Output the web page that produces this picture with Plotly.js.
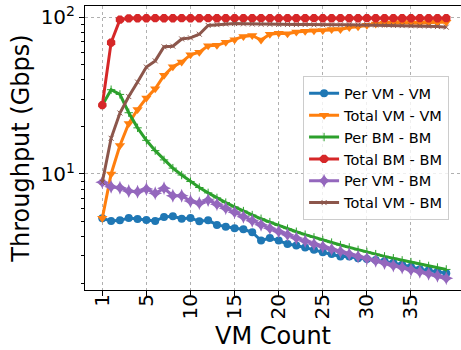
<!DOCTYPE html>
<html>
<head>
<meta charset="utf-8">
<script src="https://cdn.plot.ly/plotly-3.0.1.min.js"></script>
<style>html,body{margin:0;padding:0;background:#fff;}#chart{width:461px;height:350px;}</style>
</head>
<body>
<div id="chart"></div>
<script>
// x positions (point index) and tick labels as shown
const xPos = [0,1,2,3,4,5,6,7,8,9,10,11,12,13,14,15,16,17,18,19,20,21,22,23,24,25,26,27,28,29,30,31,32,33,34,35,36,37,38,39];
const xTickPos = [0,5,10,15,20,25,30,35];
const xTickText = ['1','5','10','15','20','25','30','35'];

const perVmVm = [5.21,5.01,5.06,5.24,5.16,5.09,5.01,5.32,5.37,5.18,5.24,4.99,5.06,4.73,4.61,4.50,4.44,4.25,3.76,3.90,3.76,3.57,3.50,3.40,3.28,3.17,3.09,2.98,2.97,2.90,2.87,2.83,2.77,2.71,2.64,2.56,2.47,2.43,2.38,2.33];
const totalVmVm = [5.21,10.0,15.2,21.0,25.8,30.5,35.0,42.6,48.3,51.8,57.6,59.9,65.8,66.2,69.2,72.0,75.5,76.5,71.5,78.0,79.0,78.5,80.5,81.5,82.0,82.5,83.5,83.5,86.0,87.0,89.0,90.5,91.5,92.0,92.5,92.0,91.5,92.5,93.0,93.0];
const perBmBm = [27.5,34.5,32.2,24.6,19.7,16.4,14.1,12.3,10.9,9.85,8.95,8.20,7.58,7.04,6.57,6.16,5.80,5.47,5.18,4.93,4.69,4.48,4.28,4.10,3.94,3.79,3.65,3.52,3.40,3.28,3.18,3.08,2.98,2.90,2.81,2.74,2.66,2.59,2.53,2.46];
const totalBmBm = [27.5,69.0,96.5,98.5,98.6,98.6,98.7,98.6,98.6,98.7,98.6,98.6,98.7,98.6,98.6,98.7,98.6,98.6,98.7,98.6,98.6,98.7,98.6,98.6,98.7,98.6,98.6,98.7,98.6,98.6,98.7,98.6,98.6,98.7,98.6,98.6,98.7,98.6,98.6,98.7];
const perVmBm = [8.85,8.30,8.18,7.79,7.71,8.02,7.53,8.10,7.27,7.27,6.72,6.50,6.82,6.41,6.04,5.70,5.34,5.03,4.75,4.51,4.29,4.09,3.90,3.74,3.58,3.44,3.31,3.20,3.09,2.98,2.89,2.79,2.70,2.61,2.53,2.45,2.38,2.31,2.24,2.16];
const totalVmBm = [8.85,16.9,24.5,31.2,38.6,48.1,52.7,64.8,65.4,72.7,73.9,78.0,88.7,89.7,90.6,91.2,90.8,90.5,90.3,90.2,90.0,90.0,89.8,89.8,89.5,89.5,89.3,89.5,89.5,89.3,89.5,89.3,89.0,88.8,88.5,88.3,88.0,87.8,87.2,86.5];

const yTickVals = [10,100];
const yTickText = ['10<sup>1</sup>','10<sup>2</sup>'];
const yMinorVals = [2,3,4,5,6,7,8,9,20,30,40,50,60,70,80,90];

const seriesNames = ['Per VM - VM','Total VM - VM','Per BM - BM','Total BM - BM','Per VM - BM','Total VM - BM'];
const seriesData = [perVmVm,totalVmVm,perBmBm,totalBmBm,perVmBm,totalVmBm];
const colors = ['#1f77b4','#ff7f0e','#2ca02c','#d62728','#9467bd','#8c564b'];
const markers = [
  {symbol:'circle', size:8},
  {symbol:'triangle-down', size:9},
  {symbol:'cross-thin', size:6, line:{width:1}},
  {symbol:'octagon', size:9},
  {symbol:'star-diamond', size:10},
  {symbol:'x-thin', size:5, line:{width:1}}
];

const traces = seriesNames.map((n,k)=>{
  const m = Object.assign({color:colors[k]}, markers[k]);
  if (m.line) m.line = Object.assign({color:colors[k]}, m.line);
  return {x:xPos, y:seriesData[k], name:n, type:'scatter', mode:'lines+markers',
    line:{color:colors[k], width:3}, marker:m};
});

const font = {family:'DejaVu Sans, sans-serif', color:'#000'};
const layout = {
  width:461, height:350,
  margin:{l:85, r:0, t:6, b:60, pad:0},
  paper_bgcolor:'#fff', plot_bgcolor:'#fff',
  font:font,
  showlegend:true,
  legend:{x:0.58, y:0.752, xanchor:'left', yanchor:'top',
    bgcolor:'rgba(255,255,255,0.8)', bordercolor:'#cccccc', borderwidth:1,
    font:{family:'DejaVu Sans, sans-serif', size:14.5, color:'#000'}, tracegroupgap:0},
  xaxis:{range:[-1.96,40.67], tickmode:'array', tickvals:xTickPos, ticktext:xTickText,
    tickangle:-90, tickfont:{size:20}, ticks:'outside', ticklen:5, tickcolor:'#000',
    ticklabelstandoff:-10,
    showline:true, linecolor:'#000', linewidth:1, mirror:true, zeroline:false,
    showgrid:true, gridcolor:'#b0b0b0', griddash:'dot', gridwidth:1,
    title:{text:'VM Count', font:{size:24}, standoff:14}, automargin:false},
  yaxis:{type:'log', range:[0.2597,2.072], tickmode:'array', tickvals:yTickVals, ticktext:yTickText,
    tickfont:{size:20}, ticks:'outside', ticklen:5, tickcolor:'#000',
    showline:true, linecolor:'#000', linewidth:1, zeroline:false,
    showgrid:true, gridcolor:'#b0b0b0', griddash:'dot', gridwidth:1,
    minor:{tickmode:'array', tickvals:yMinorVals, ticks:'outside', ticklen:3, tickcolor:'#000', showgrid:false},
    title:{text:'Throughput (Gbps)', font:{size:24}, standoff:4}, automargin:false}
};

Plotly.newPlot('chart', traces, layout, {staticPlot:true, displayModeBar:false});
</script>
</body>
</html>
